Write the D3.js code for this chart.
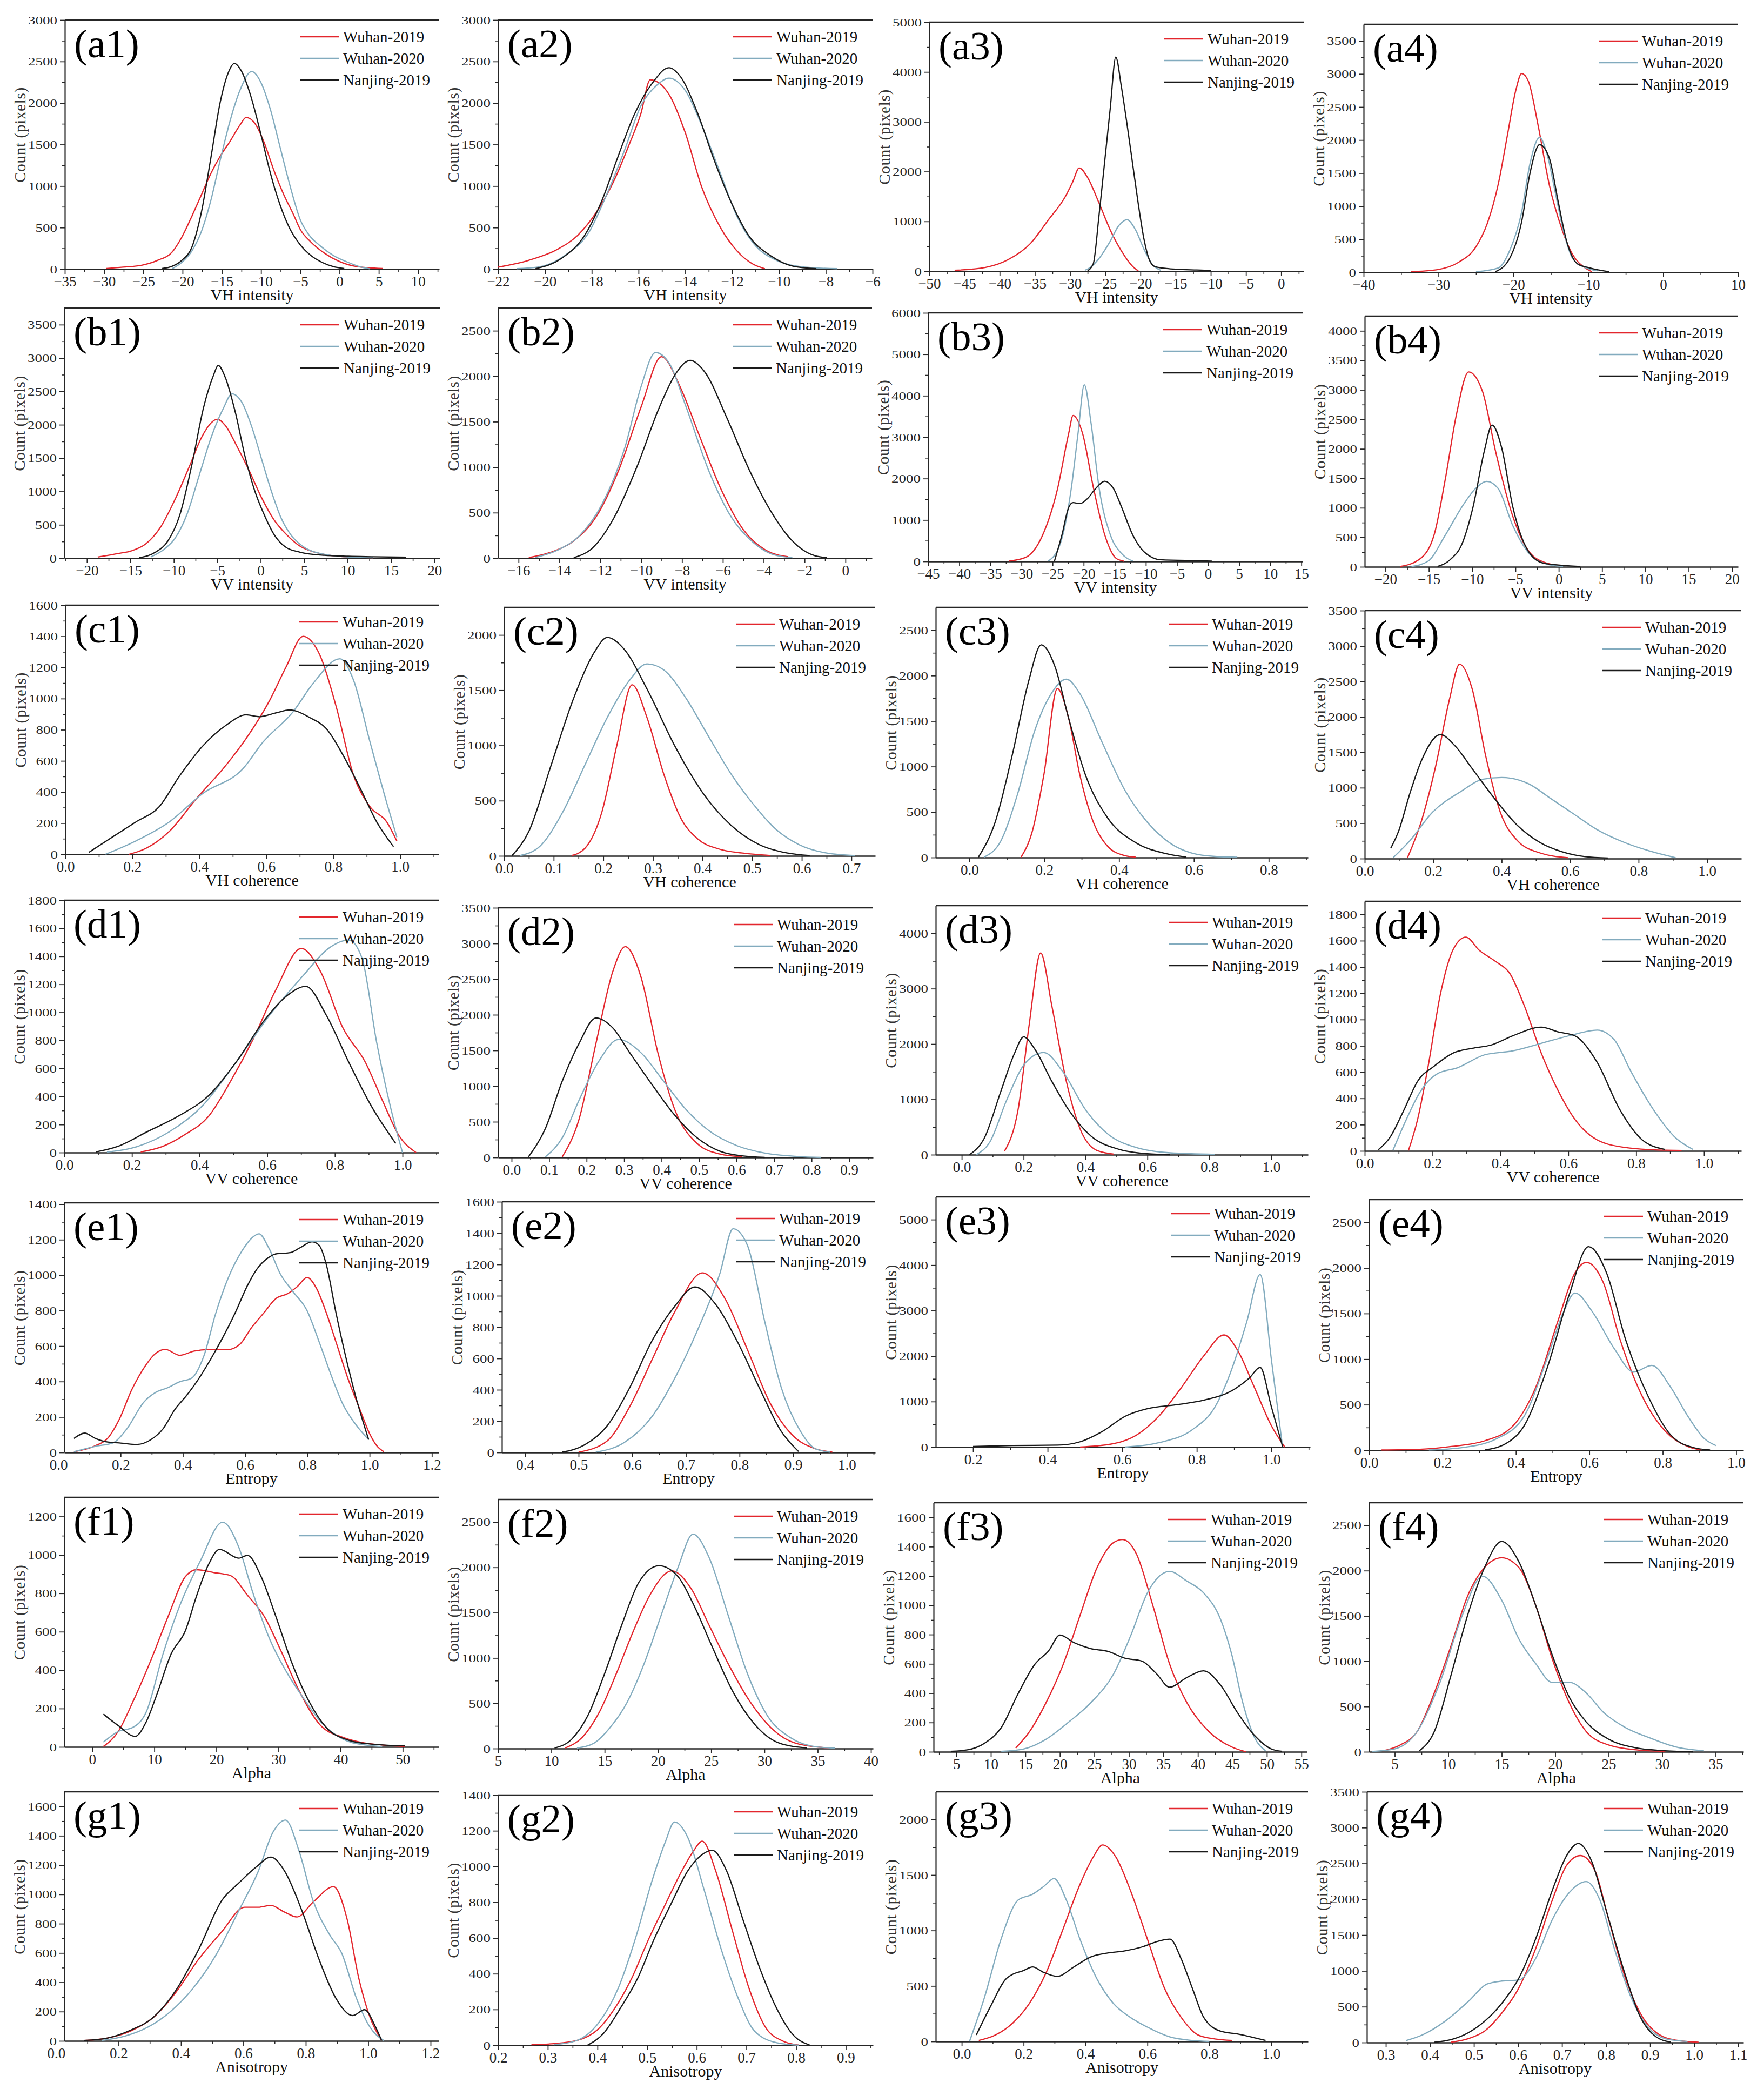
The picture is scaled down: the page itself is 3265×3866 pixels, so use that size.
<!DOCTYPE html>
<html><head><meta charset="utf-8">
<script src="https://cdn.jsdelivr.net/npm/d3@7/dist/d3.min.js"></script>
<style>body{margin:0;background:#fff}svg{display:block}</style>
</head><body><svg id="chart" width="3265" height="3866"></svg>
<script>
// ---------------- DATA ----------------
const seriesNames = ["Wuhan-2019", "Wuhan-2020", "Nanjing-2019"];
const rowTitles = ["VH intensity", "VV intensity", "VH coherence", "VV coherence", "Entropy", "Alpha", "Anisotropy"];
const yTitle = "Count (pixels)";

// (a) VH intensity
const a1_xr = [-35, 12.7], a1_ym = 3000;
const a1_xt = [-35, -30, -25, -20, -15, -10, -5, 0, 5, 10];
const a1_yt = [0, 500, 1000, 1500, 2000, 2500, 3000];
const a1_w19 = [[-29.7,7],[-27.6,23],[-25.2,47],[-23.2,105],[-21.3,209],[-20.1,384],[-18.8,640],[-17.6,895],[-16.4,1151],[-15.2,1360],[-13.9,1547],[-12.7,1733],[-11.9,1826],[-10.8,1756],[-9.6,1523],[-8.4,1198],[-7.1,895],[-5.9,663],[-5,477],[-3.7,330],[-1.9,190],[-0.1,95],[2.1,32],[5.5,7]];
const a1_w20 = [[-21.3,7],[-20.1,81],[-18.8,221],[-17.6,453],[-16.4,826],[-15.2,1314],[-13.9,1802],[-12.7,2151],[-11.2,2379],[-10,2244],[-8.8,1919],[-7.6,1477],[-6.4,1035],[-5,593],[-3.8,400],[-2.6,290],[-0.8,165],[1,85],[2.8,23],[3.9,2]];
const a1_nj = [[-22.6,7],[-21.3,35],[-20.1,105],[-18.8,267],[-17.6,686],[-16.4,1337],[-15.2,2012],[-14.2,2360],[-13.4,2477],[-12.5,2384],[-11.3,2081],[-10,1616],[-8.8,1151],[-7.6,779],[-6.4,500],[-5,291],[-3.6,160],[-2.2,80],[-0.8,30],[0.6,7]];

const a2_xr = [-22, -6], a2_ym = 3000;
const a2_xt = [-22, -20, -18, -16, -14, -12, -10, -8, -6];
const a2_yt = [0, 500, 1000, 1500, 2000, 2500, 3000];
const a2_w19 = [[-22,23],[-20.7,105],[-19.5,233],[-18.6,407],[-17.8,686],[-17.1,1035],[-16.4,1500],[-15.9,1872],[-15.5,2280],[-14.7,2105],[-14,1640],[-13.3,988],[-12.5,500],[-11.8,221],[-11.1,58],[-10.6,5]];
const a2_w20 = [[-21.2,5],[-20.3,23],[-19.1,174],[-18.1,453],[-17.4,872],[-16.6,1430],[-15.9,1965],[-15.2,2220],[-14.7,2300],[-14,2150],[-13.3,1733],[-12.5,1150],[-11.8,640],[-11.1,314],[-10.1,105],[-8.9,23],[-7.5,5]];
const a2_nj = [[-20.4,5],[-19.3,128],[-18.3,407],[-17.6,802],[-16.9,1337],[-16.2,1849],[-15.4,2244],[-14.7,2425],[-14.2,2314],[-13.5,1895],[-12.8,1337],[-12,779],[-11.3,407],[-10.3,151],[-9.4,35],[-8.4,5]];

const a3_xr = [-50, 3.2], a3_ym = 5000;
const a3_xt = [-50, -45, -40, -35, -30, -25, -20, -15, -10, -5, 0];
const a3_yt = [0, 1000, 2000, 3000, 4000, 5000];
const a3_w19 = [[-46.4,19],[-42,78],[-38.8,233],[-35.6,562],[-33.1,1027],[-30.7,1492],[-29.6,1800],[-28.7,2074],[-27.5,1880],[-25.9,1376],[-24.3,833],[-22.7,407],[-21.1,97],[-20.3,8]];
const a3_w20 = [[-27.9,19],[-27.3,60],[-25.9,252],[-24.3,600],[-23.1,911],[-21.9,1035],[-20.7,833],[-19.5,446],[-18.3,136],[-17.1,19]];
const a3_nj = [[-27.5,10],[-26.7,150],[-25.9,1093],[-25.1,2170],[-24.3,3250],[-23.5,4300],[-22.7,3700],[-21.9,2950],[-21.1,2150],[-20.3,1350],[-19.5,650],[-18.7,220],[-17.9,90],[-16.3,55],[-14.7,39],[-12,25],[-10,15]];

const a4_xr = [-40, 10], a4_ym = 3750;
const a4_xt = [-40, -30, -20, -10, 0, 10];
const a4_yt = [0, 500, 1000, 1500, 2000, 2500, 3000, 3500];
const a4_w19 = [[-33.7,9],[-30.3,38],[-27.3,154],[-25,387],[-23.5,736],[-22,1347],[-20.8,2075],[-19.7,2744],[-18.9,3006],[-18,2889],[-16.7,2220],[-15.2,1318],[-13.6,678],[-12.1,271],[-10.6,81],[-9.5,9]];
const a4_w20 = [[-25,9],[-22,67],[-20.5,329],[-18.9,911],[-17.8,1638],[-16.5,2040],[-15.5,1783],[-14.4,1202],[-13.3,620],[-12.1,212],[-10.6,81],[-8.7,23]];
const a4_nj = [[-22.4,9],[-20.5,212],[-18.9,765],[-17.8,1493],[-16.5,1930],[-15.2,1725],[-14,1056],[-12.9,474],[-11.4,125],[-9.8,67],[-7.2,9]];

// (b) VV intensity
const b1_xr = [-22.6, 20.6], b1_ym = 3750;
const b1_xt = [-20, -15, -10, -5, 0, 5, 10, 15, 20];
const b1_yt = [0, 500, 1000, 1500, 2000, 2500, 3000, 3500];
const b1_w19 = [[-18.75,18],[-16.3,72],[-14.9,109],[-13.2,217],[-11.5,471],[-9.9,870],[-8.2,1377],[-6.8,1812],[-5.7,2029],[-5,2083],[-4.1,1993],[-2.7,1667],[-1.3,1304],[0.1,906],[1.5,580],[2.9,362],[4.5,181],[6.2,91],[7.9,43],[10.1,18],[12.9,7]];
const b1_w20 = [[-12.65,18],[-11,145],[-9.9,290],[-8.5,652],[-7.1,1232],[-5.7,1812],[-4.3,2246],[-3.3,2464],[-2.1,2319],[-1,1956],[0.1,1485],[1.2,1014],[2.3,616],[3.4,362],[4.8,181],[6.8,72],[10.1,18],[12.9,7]];
const b1_nj = [[-14,7],[-12.1,91],[-10.7,254],[-9.3,652],[-7.9,1413],[-6.6,2246],[-5.4,2753],[-4.9,2891],[-4.1,2717],[-2.9,2174],[-1.8,1522],[-0.7,1014],[0.4,652],[1.5,362],[2.9,163],[4.5,91],[7.3,43],[10.1,29],[12.9,22],[16.7,14]];

const b2_xr = [-17, 1.3], b2_ym = 2750;
const b2_xt = [-16, -14, -12, -10, -8, -6, -4, -2, 0];
const b2_yt = [0, 500, 1000, 1500, 2000, 2500];
const b2_w19 = [[-15.5,6],[-14.4,67],[-13.3,190],[-12.2,456],[-11.1,967],[-10,1663],[-9,2215],[-8.1,1888],[-7.2,1376],[-6.1,763],[-5,313],[-3.9,88],[-2.8,16]];
const b2_w20 = [[-15.2,6],[-14.1,88],[-13,251],[-11.9,599],[-10.8,1213],[-10,1888],[-9.3,2260],[-8.6,2133],[-7.8,1663],[-6.7,967],[-5.6,456],[-4.5,170],[-3.5,37],[-2.6,6]];
const b2_nj = [[-13.3,6],[-12.4,108],[-11.3,456],[-10.2,1008],[-9.1,1663],[-8.3,2031],[-7.6,2174],[-6.9,2051],[-5.8,1540],[-4.7,967],[-3.6,497],[-2.6,190],[-1.5,27],[-0.9,6]];

const b3_xr = [-45, 15.2], b3_ym = 6000;
const b3_xt = [-45, -40, -35, -30, -25, -20, -15, -10, -5, 0, 5, 10, 15];
const b3_yt = [0, 1000, 2000, 3000, 4000, 5000, 6000];
const b3_w19 = [[-32,9],[-29.3,99],[-26.6,636],[-24.2,1755],[-22.4,3099],[-21.7,3524],[-20.2,3099],[-18.4,1755],[-16.6,636],[-14.8,76],[-13.5,5]];
const b3_w20 = [[-25.7,9],[-23.8,412],[-22,1755],[-20.9,3099],[-19.9,4263],[-18.8,3323],[-17.5,1755],[-15.7,636],[-13.9,188],[-12.1,9]];
const b3_nj = [[-24.7,9],[-23.5,636],[-22.4,1308],[-21.7,1420],[-20.6,1397],[-19.3,1531],[-18.1,1755],[-16.6,1935],[-15.2,1755],[-13.9,1308],[-12.1,636],[-10.3,233],[-7.6,40],[-2.1,18],[0.6,9]];

const b4_xr = [-22.4, 20.7], b4_ym = 4250;
const b4_xt = [-20, -15, -10, -5, 0, 5, 10, 15, 20];
const b4_yt = [0, 500, 1000, 1500, 2000, 2500, 3000, 3500, 4000];
const b4_w19 = [[-18.3,6],[-16.1,126],[-14.4,537],[-13.1,1486],[-11.8,2593],[-10.4,3304],[-8.8,2972],[-7.3,1960],[-5.3,854],[-3.4,253],[-1.4,63],[0.5,16]];
const b4_w20 = [[-17,6],[-15.1,95],[-13.1,537],[-11.2,1012],[-9.6,1328],[-8.3,1448],[-7,1328],[-5.3,696],[-3.4,221],[-1.4,47],[0.5,6]];
const b4_nj = [[-14,6],[-12.5,126],[-11.2,379],[-9.9,1012],[-8.6,1960],[-7.7,2403],[-6.6,2023],[-5.3,1012],[-3.6,285],[-1.8,63],[0.5,25],[2.5,6]];

// (c) VH coherence
const c1_xr = [0, 1.115], c1_ym = 1600;
const c1_xt = [0, 0.2, 0.4, 0.6, 0.8, 1.0];
const c1_yt = [0, 200, 400, 600, 800, 1000, 1200, 1400, 1600];
const c1_w19 = [[0.19,0],[0.24,37],[0.31,146],[0.39,354],[0.48,573],[0.54,744],[0.61,988],[0.66,1207],[0.71,1400],[0.76,1280],[0.81,939],[0.86,512],[0.91,305],[0.96,207],[0.99,85]];
const c1_w20 = [[0.12,0],[0.21,85],[0.31,207],[0.41,390],[0.53,549],[0.59,720],[0.68,915],[0.74,1098],[0.82,1256],[0.86,1122],[0.91,720],[0.96,329],[0.99,110]];
const c1_nj = [[0.07,12],[0.14,110],[0.21,207],[0.28,305],[0.34,500],[0.41,695],[0.48,829],[0.54,896],[0.58,884],[0.63,909],[0.67,927],[0.73,878],[0.78,805],[0.83,634],[0.88,427],[0.93,207],[0.98,49]];

const c2_xr = [0, 0.748], c2_ym = 2250;
const c2_xt = [0, 0.1, 0.2, 0.3, 0.4, 0.5, 0.6, 0.7];
const c2_yt = [0, 500, 1000, 1500, 2000];
const c2_w19 = [[0.136,3],[0.163,69],[0.197,395],[0.227,996],[0.258,1549],[0.288,1253],[0.322,738],[0.356,343],[0.39,155],[0.435,60],[0.48,26],[0.537,3]];
const c2_w20 = [[0.032,3],[0.072,86],[0.118,395],[0.163,824],[0.208,1253],[0.254,1597],[0.288,1738],[0.322,1683],[0.367,1425],[0.412,1082],[0.458,738],[0.503,464],[0.548,240],[0.594,103],[0.65,26],[0.707,3]];
const c2_nj = [[0.016,3],[0.05,223],[0.095,824],[0.14,1425],[0.181,1837],[0.208,1978],[0.242,1871],[0.288,1511],[0.344,996],[0.401,567],[0.458,275],[0.514,103],[0.571,26],[0.616,3]];

const c3_xr = [-0.09, 0.905], c3_ym = 2750;
const c3_xt = [0, 0.2, 0.4, 0.6, 0.8];
const c3_yt = [0, 500, 1000, 1500, 2000, 2500];
const c3_w19 = [[0.138,4],[0.168,287],[0.199,910],[0.235,1856],[0.265,1534],[0.295,910],[0.331,391],[0.37,121],[0.415,21],[0.445,4]];
const c3_w20 = [[0.039,4],[0.084,183],[0.129,702],[0.174,1388],[0.219,1804],[0.259,1960],[0.295,1804],[0.355,1263],[0.415,744],[0.475,391],[0.535,162],[0.595,48],[0.656,12],[0.716,4]];
const c3_nj = [[0.024,4],[0.069,391],[0.114,1118],[0.159,1949],[0.192,2338],[0.229,2095],[0.265,1534],[0.31,910],[0.37,432],[0.445,162],[0.52,48],[0.58,4]];

const c4_xr = [0, 1.1], c4_ym = 3500;
const c4_xt = [0, 0.2, 0.4, 0.6, 0.8, 1.0];
const c4_yt = [0, 500, 1000, 1500, 2000, 2500, 3000, 3500];
const c4_w19 = [[0.125,13],[0.165,521],[0.208,1322],[0.248,2258],[0.277,2744],[0.314,2391],[0.353,1456],[0.396,655],[0.446,254],[0.512,80],[0.594,13]];
const c4_w20 = [[0.083,13],[0.132,254],[0.198,655],[0.281,948],[0.347,1122],[0.4,1145],[0.479,1055],[0.545,842],[0.611,628],[0.677,414],[0.759,227],[0.842,94],[0.908,13]];
const c4_nj = [[0.076,147],[0.099,388],[0.132,922],[0.165,1376],[0.221,1750],[0.264,1590],[0.314,1269],[0.38,842],[0.446,468],[0.512,227],[0.578,94],[0.644,27],[0.71,8]];

// (d) VV coherence
const d1_xr = [0, 1.107], d1_ym = 1800;
const d1_xt = [0, 0.2, 0.4, 0.6, 0.8, 1.0];
const d1_yt = [0, 200, 400, 600, 800, 1000, 1200, 1400, 1600, 1800];
const d1_w19 = [[0.226,4],[0.292,45],[0.359,132],[0.425,254],[0.492,510],[0.558,807],[0.625,1158],[0.701,1456],[0.757,1294],[0.824,888],[0.89,645],[0.94,375],[0.99,119],[1.04,0]];
const d1_w20 = [[0.126,3],[0.209,38],[0.309,146],[0.409,335],[0.508,645],[0.608,983],[0.708,1267],[0.781,1456],[0.841,1516],[0.88,1388],[0.924,780],[0.973,240],[1.0,0]];
const d1_nj = [[0.093,4],[0.159,45],[0.243,146],[0.342,267],[0.425,402],[0.508,645],[0.591,942],[0.658,1118],[0.714,1186],[0.774,983],[0.841,645],[0.907,335],[0.98,65]];

const d2_xr = [-0.036, 0.964], d2_ym = 3500;
const d2_xt = [0, 0.1, 0.2, 0.3, 0.4, 0.5, 0.6, 0.7, 0.8, 0.9];
const d2_yt = [0, 500, 1000, 1500, 2000, 2500, 3000, 3500];
const d2_w19 = [[0.135,8],[0.18,539],[0.225,1601],[0.27,2610],[0.303,2955],[0.345,2530],[0.39,1468],[0.435,672],[0.495,194],[0.555,48],[0.615,8]];
const d2_w20 = [[0.09,8],[0.135,274],[0.18,805],[0.231,1336],[0.285,1654],[0.345,1468],[0.405,1070],[0.465,672],[0.525,380],[0.6,167],[0.675,61],[0.765,13],[0.825,0]];
const d2_nj = [[0.045,8],[0.09,406],[0.135,1070],[0.18,1601],[0.225,1955],[0.27,1814],[0.315,1468],[0.375,1017],[0.435,592],[0.495,274],[0.555,88],[0.615,21],[0.675,0]];

const d3_xr = [-0.084, 1.119], d3_ym = 4500;
const d3_xt = [0, 0.2, 0.4, 0.6, 0.8, 1.0];
const d3_yt = [0, 1000, 2000, 3000, 4000];
const d3_w19 = [[0.138,62],[0.182,814],[0.218,2352],[0.255,3644],[0.291,2694],[0.338,1326],[0.382,472],[0.436,79],[0.491,10]];
const d3_w20 = [[0.047,0],[0.091,232],[0.145,985],[0.207,1668],[0.265,1846],[0.327,1497],[0.4,814],[0.473,369],[0.564,130],[0.673,34],[0.818,7]];
const d3_nj = [[0.025,0],[0.073,301],[0.127,1156],[0.171,1839],[0.2,2129],[0.236,1908],[0.291,1326],[0.345,814],[0.418,335],[0.509,96],[0.6,17],[0.673,0]];

const d4_xr = [0, 1.11], d4_ym = 1900;
const d4_xt = [0, 0.2, 0.4, 0.6, 0.8, 1.0];
const d4_yt = [0, 200, 400, 600, 800, 1000, 1200, 1400, 1600, 1800];
const d4_w19 = [[0.129,4],[0.156,242],[0.189,675],[0.222,1180],[0.262,1540],[0.298,1627],[0.338,1526],[0.387,1440],[0.427,1353],[0.47,1108],[0.52,747],[0.57,459],[0.619,242],[0.685,84],[0.768,26],[0.851,9],[0.934,4]];
const d4_w20 = [[0.083,4],[0.123,242],[0.162,444],[0.215,589],[0.272,632],[0.354,732],[0.437,762],[0.52,819],[0.603,877],[0.685,920],[0.735,848],[0.785,603],[0.851,314],[0.917,98],[0.967,12]];
const d4_nj = [[0.04,9],[0.073,98],[0.116,314],[0.156,531],[0.205,646],[0.262,747],[0.321,783],[0.371,805],[0.437,877],[0.52,942],[0.57,906],[0.619,877],[0.685,675],[0.752,314],[0.818,84],[0.884,12]];

// (e) Entropy
const e1_xr = [0.019, 1.222], e1_ym = 1408;
const e1_xt = [0, 0.2, 0.4, 0.6, 0.8, 1.0, 1.2];
const e1_yt = [0, 200, 400, 600, 800, 1000, 1200, 1400];
const e1_w19 = [[0.05,4],[0.119,38],[0.158,79],[0.196,188],[0.235,351],[0.274,474],[0.312,558],[0.343,582],[0.39,548],[0.436,572],[0.482,580],[0.544,580],[0.583,610],[0.621,705],[0.66,787],[0.699,868],[0.737,896],[0.768,936],[0.799,987],[0.83,923],[0.861,787],[0.892,623],[0.93,419],[0.969,242],[1.0,106],[1.023,38],[1.046,4]];
const e1_w20 = [[0.05,4],[0.119,35],[0.173,52],[0.22,133],[0.274,283],[0.312,338],[0.351,365],[0.39,399],[0.428,419],[0.467,542],[0.506,787],[0.544,977],[0.591,1140],[0.621,1209],[0.645,1233],[0.676,1154],[0.714,1004],[0.753,909],[0.799,800],[0.838,623],[0.877,433],[0.915,269],[0.954,161],[0.997,72]];
const e1_nj = [[0.05,79],[0.085,109],[0.119,79],[0.158,59],[0.196,54],[0.251,45],[0.297,72],[0.336,133],[0.374,242],[0.413,324],[0.452,419],[0.49,528],[0.529,651],[0.568,787],[0.606,936],[0.637,1032],[0.676,1100],[0.699,1120],[0.745,1127],[0.776,1154],[0.815,1188],[0.838,1168],[0.861,1059],[0.892,787],[0.923,542],[0.954,324],[0.997,72]];

const e2_xr = [0.357, 1.053], e2_ym = 1600;
const e2_xt = [0.4, 0.5, 0.6, 0.7, 0.8, 0.9, 1.0];
const e2_yt = [0, 200, 400, 600, 800, 1000, 1200, 1400, 1600];
const e2_w19 = [[0.5,2],[0.553,73],[0.595,291],[0.637,593],[0.679,896],[0.731,1146],[0.773,981],[0.815,654],[0.857,315],[0.899,109],[0.941,24],[0.973,2]];
const e2_w20 = [[0.532,2],[0.584,61],[0.637,230],[0.679,472],[0.721,775],[0.763,1138],[0.788,1428],[0.815,1320],[0.847,835],[0.878,412],[0.914,133],[0.941,24],[0.969,2]];
const e2_nj = [[0.469,2],[0.511,48],[0.553,169],[0.595,412],[0.637,714],[0.679,932],[0.717,1056],[0.753,956],[0.795,714],[0.837,412],[0.878,133],[0.91,6]];

const e3_xr = [0.1, 1.104], e3_ym = 5500;
const e3_xt = [0.2, 0.4, 0.6, 0.8, 1.0];
const e3_yt = [0, 1000, 2000, 3000, 4000, 5000];
const e3_w19 = [[0.487,0],[0.577,75],[0.638,262],[0.698,677],[0.758,1301],[0.819,2008],[0.873,2465],[0.909,2133],[0.955,1301],[1.0,470],[1.036,0]];
const e3_w20 = [[0.608,0],[0.698,96],[0.789,387],[0.849,885],[0.894,1717],[0.934,2756],[0.97,3795],[1.0,1924],[1.03,0]];
const e3_nj = [[0.2,12],[0.306,33],[0.426,42],[0.487,116],[0.547,345],[0.608,677],[0.668,844],[0.743,927],[0.819,1031],[0.894,1239],[0.94,1509],[0.97,1750],[1.0,885],[1.03,12]];

const e4_xr = [0, 1.02], e4_ym = 2750;
const e4_xt = [0, 0.2, 0.4, 0.6, 0.8, 1.0];
const e4_yt = [0, 500, 1000, 1500, 2000, 2500];
const e4_w19 = [[0.034,4],[0.132,10],[0.224,42],[0.316,105],[0.393,272],[0.454,690],[0.515,1423],[0.561,1946],[0.592,2061],[0.638,1841],[0.684,1213],[0.745,586],[0.807,209],[0.868,42],[0.905,4]];
const e4_w20 = [[0.163,4],[0.255,31],[0.347,126],[0.423,377],[0.485,1004],[0.531,1527],[0.561,1726],[0.607,1527],[0.669,1109],[0.721,858],[0.77,931],[0.822,690],[0.868,377],[0.914,126],[0.945,52]];
const e4_nj = [[0.316,4],[0.377,84],[0.423,272],[0.485,900],[0.546,1715],[0.598,2234],[0.647,1946],[0.699,1213],[0.761,586],[0.822,167],[0.883,31],[0.929,4]];

// (f) Alpha
const f1_xr = [-4.5, 55.8], f1_ym = 1300;
const f1_xt = [0, 10, 20, 30, 40, 50];
const f1_yt = [0, 200, 400, 600, 800, 1000, 1200];
const f1_w19 = [[1.8,2],[4.2,81],[6.5,232],[9.6,464],[12.3,686],[15,887],[16.8,923],[19.6,908],[22.3,892],[25,790],[27.7,680],[30.4,500],[33.2,300],[36.8,111],[40.4,50],[44,20],[46.7,10],[50.4,2]];
const f1_w20 = [[1.8,25],[4.2,81],[6.5,101],[8.7,182],[11.4,484],[14.1,736],[17.4,968],[21,1170],[23.6,1040],[25.9,800],[28.6,560],[31.3,390],[34.1,250],[36.8,131],[40.4,40],[44,10],[46.7,2]];
const f1_nj = [[1.8,171],[4.2,111],[6.9,55],[8.7,131],[10.5,282],[12.7,484],[15,605],[16.8,786],[18.7,948],[20.5,1029],[23.6,983],[25,998],[27.2,887],[29.5,686],[32.2,434],[35,232],[37.7,101],[41.3,35],[44.9,15],[50.4,5]];

const f2_xr = [5, 40.2], f2_ym = 2750;
const f2_xt = [5, 10, 15, 20, 25, 30, 35, 40];
const f2_yt = [0, 500, 1000, 1500, 2000, 2500];
const f2_w19 = [[11.3,6],[12.9,124],[14.5,402],[16.1,829],[17.7,1299],[19.2,1684],[21.3,1962],[23.1,1769],[24.8,1363],[26.6,936],[28.7,509],[30.8,209],[32.9,60],[36.1,6]];
const f2_w20 = [[12.4,6],[14,60],[15.5,231],[17.1,509],[18.7,936],[20.3,1470],[21.9,2004],[23.3,2368],[24.8,2111],[26.6,1470],[28.4,829],[30.3,359],[32.4,124],[35,17],[36.6,6]];
const f2_nj = [[10.3,6],[11.9,103],[13.4,359],[15,829],[16.6,1363],[18.2,1833],[20.1,2019],[21.9,1897],[23.4,1577],[25,1150],[27.1,615],[29.2,252],[31.4,60],[34,6]];

const f3_xr = [1.7, 55.8], f3_ym = 1700;
const f3_xt = [5, 10, 15, 20, 25, 30, 35, 40, 45, 50, 55];
const f3_yt = [0, 200, 400, 600, 800, 1000, 1200, 1400, 1600];
const f3_w19 = [[13.6,26],[15.6,138],[18,336],[20.5,599],[22.9,928],[25.4,1258],[27.8,1429],[29.1,1449],[31.1,1350],[33.5,994],[35.9,599],[38.4,336],[41.6,138],[44.9,33],[47,0]];
const f3_w20 = [[11.5,3],[14.8,20],[18,86],[21.3,204],[24.5,336],[27.8,533],[30.3,797],[32.7,1086],[35.9,1231],[38.4,1165],[40.8,1086],[43.3,902],[44.9,665],[46.5,336],[48.2,99],[49.8,7]];
const f3_nj = [[4.2,3],[6.6,13],[9.1,59],[11.5,165],[14,402],[16.4,599],[18.4,691],[20,797],[22.1,744],[24.5,704],[27,685],[29.4,639],[31.9,619],[34,533],[35.9,441],[38.4,507],[40.8,553],[43.3,454],[45.7,270],[48.2,112],[50.6,20],[52.2,3]];

const f4_xr = [2.6, 37.6], f4_ym = 2750;
const f4_xt = [5, 10, 15, 20, 25, 30, 35];
const f4_yt = [0, 500, 1000, 1500, 2000, 2500];
const f4_w19 = [[3.9,11],[5.5,75],[7.1,224],[8.7,650],[10.3,1183],[11.8,1716],[13.4,2035],[15,2142],[16.6,2035],[18.2,1609],[19.7,1034],[21.3,544],[22.9,224],[25,75],[27.6,21],[30.3,4]];
const f4_w20 = [[2.9,4],[5,32],[7.1,224],[9.2,757],[11.3,1503],[13.2,1940],[15,1673],[16.6,1247],[18.2,970],[19.7,767],[21.3,767],[22.9,650],[24.5,437],[26.6,266],[28.7,160],[31.3,53],[33.9,11]];
const f4_nj = [[7.3,11],[8.7,224],[10.3,863],[11.8,1503],[13.4,2035],[15,2323],[16.6,2099],[18.2,1609],[19.7,1076],[21.3,607],[22.9,330],[25,139],[27.6,43],[30.3,11],[32.9,0]];

// (g) Anisotropy
const g1_xr = [0.026, 1.226], g1_ym = 1700;
const g1_xt = [0, 0.2, 0.4, 0.6, 0.8, 1.0, 1.2];
const g1_yt = [0, 200, 400, 600, 800, 1000, 1200, 1400, 1600];
const g1_w19 = [[0.09,3],[0.165,20],[0.238,67],[0.311,160],[0.384,333],[0.457,559],[0.531,746],[0.604,912],[0.648,912],[0.688,925],[0.732,879],[0.772,846],[0.823,946],[0.889,1052],[0.933,826],[0.97,426],[1.006,160],[1.043,3]];
const g1_w20 = [[0.146,3],[0.22,33],[0.293,93],[0.366,200],[0.439,360],[0.512,586],[0.586,892],[0.648,1159],[0.695,1425],[0.735,1507],[0.779,1292],[0.823,959],[0.878,719],[0.915,599],[0.962,293],[1.006,93],[1.05,3]];
const g1_nj = [[0.09,3],[0.165,20],[0.238,73],[0.311,160],[0.384,346],[0.457,626],[0.531,959],[0.586,1079],[0.64,1185],[0.688,1254],[0.732,1159],[0.787,892],[0.842,559],[0.896,293],[0.951,173],[0.988,213],[1.024,93],[1.043,3]];

const g2_xr = [0.2, 0.955], g2_ym = 1400;
const g2_xt = [0.2, 0.3, 0.4, 0.5, 0.6, 0.7, 0.8, 0.9];
const g2_yt = [0, 200, 400, 600, 800, 1000, 1200, 1400];
const g2_w19 = [[0.267,3],[0.312,9],[0.357,25],[0.402,91],[0.436,211],[0.469,375],[0.503,593],[0.537,790],[0.57,976],[0.593,1085],[0.611,1142],[0.638,976],[0.671,648],[0.705,320],[0.738,102],[0.772,25],[0.806,0]];
const g2_w20 = [[0.312,3],[0.357,25],[0.402,124],[0.442,320],[0.476,593],[0.51,921],[0.537,1140],[0.555,1249],[0.582,1162],[0.615,867],[0.649,539],[0.683,266],[0.716,80],[0.761,14],[0.806,0]];
const g2_nj = [[0.38,0],[0.413,69],[0.447,211],[0.481,375],[0.514,593],[0.548,790],[0.582,976],[0.609,1063],[0.631,1091],[0.66,976],[0.693,703],[0.727,430],[0.76,211],[0.794,58],[0.828,0]];

const g3_xr = [-0.084, 1.119], g3_ym = 2250;
const g3_xt = [0, 0.2, 0.4, 0.6, 0.8, 1.0];
const g3_yt = [0, 500, 1000, 1500, 2000];
const g3_w19 = [[0.055,9],[0.109,58],[0.164,164],[0.218,340],[0.273,622],[0.327,1010],[0.382,1415],[0.425,1662],[0.455,1771],[0.498,1662],[0.545,1362],[0.6,922],[0.655,481],[0.709,217],[0.764,58],[0.818,23],[0.873,9]];
const g3_w20 = [[0.025,0],[0.073,393],[0.127,922],[0.182,1274],[0.229,1327],[0.265,1397],[0.298,1468],[0.338,1274],[0.382,922],[0.436,569],[0.491,340],[0.545,217],[0.6,129],[0.673,41],[0.745,9],[0.8,0]];
const g3_nj = [[0.047,58],[0.091,305],[0.145,569],[0.2,640],[0.229,671],[0.265,622],[0.309,587],[0.364,675],[0.418,763],[0.473,798],[0.527,816],[0.582,851],[0.636,904],[0.673,922],[0.709,745],[0.745,481],[0.782,217],[0.836,93],[0.891,67],[0.935,41],[0.982,9]];

const g4_xr = [0.257, 1.112], g4_ym = 3500;
const g4_xt = [0.3, 0.4, 0.5, 0.6, 0.7, 0.8, 0.9, 1.0, 1.1];
const g4_yt = [0, 500, 1000, 1500, 2000, 2500, 3000, 3500];
const g4_w19 = [[0.448,5],[0.487,54],[0.525,163],[0.563,409],[0.602,763],[0.64,1308],[0.678,1989],[0.711,2479],[0.742,2610],[0.775,2397],[0.806,1716],[0.844,899],[0.883,354],[0.921,109],[0.959,33],[1.01,5]];
const g4_w20 = [[0.346,27],[0.384,109],[0.435,300],[0.487,572],[0.53,817],[0.563,858],[0.602,872],[0.64,1171],[0.678,1716],[0.717,2097],[0.755,2247],[0.786,1989],[0.819,1308],[0.857,627],[0.895,218],[0.934,54],[0.985,14]];
const g4_nj = [[0.41,5],[0.448,41],[0.487,136],[0.525,300],[0.563,545],[0.602,899],[0.64,1444],[0.678,2125],[0.711,2615],[0.737,2779],[0.767,2534],[0.8,1852],[0.839,1035],[0.878,354],[0.913,82],[0.947,5]];

// ---------------- PANEL REGISTRY ----------------
const panels = [
  {id:"a1",row:0,xr:a1_xr,ym:a1_ym,xt:a1_xt,yt:a1_yt,s:[a1_w19,a1_w20,a1_nj]},
  {id:"a2",row:0,xr:a2_xr,ym:a2_ym,xt:a2_xt,yt:a2_yt,s:[a2_w19,a2_w20,a2_nj]},
  {id:"a3",row:0,xr:a3_xr,ym:a3_ym,xt:a3_xt,yt:a3_yt,s:[a3_w19,a3_w20,a3_nj]},
  {id:"a4",row:0,xr:a4_xr,ym:a4_ym,xt:a4_xt,yt:a4_yt,s:[a4_w19,a4_w20,a4_nj]},
  {id:"b1",row:1,xr:b1_xr,ym:b1_ym,xt:b1_xt,yt:b1_yt,s:[b1_w19,b1_w20,b1_nj]},
  {id:"b2",row:1,xr:b2_xr,ym:b2_ym,xt:b2_xt,yt:b2_yt,s:[b2_w19,b2_w20,b2_nj]},
  {id:"b3",row:1,xr:b3_xr,ym:b3_ym,xt:b3_xt,yt:b3_yt,s:[b3_w19,b3_w20,b3_nj]},
  {id:"b4",row:1,xr:b4_xr,ym:b4_ym,xt:b4_xt,yt:b4_yt,s:[b4_w19,b4_w20,b4_nj]},
  {id:"c1",row:2,xr:c1_xr,ym:c1_ym,xt:c1_xt,yt:c1_yt,s:[c1_w19,c1_w20,c1_nj]},
  {id:"c2",row:2,xr:c2_xr,ym:c2_ym,xt:c2_xt,yt:c2_yt,s:[c2_w19,c2_w20,c2_nj]},
  {id:"c3",row:2,xr:c3_xr,ym:c3_ym,xt:c3_xt,yt:c3_yt,s:[c3_w19,c3_w20,c3_nj]},
  {id:"c4",row:2,xr:c4_xr,ym:c4_ym,xt:c4_xt,yt:c4_yt,s:[c4_w19,c4_w20,c4_nj]},
  {id:"d1",row:3,xr:d1_xr,ym:d1_ym,xt:d1_xt,yt:d1_yt,s:[d1_w19,d1_w20,d1_nj]},
  {id:"d2",row:3,xr:d2_xr,ym:d2_ym,xt:d2_xt,yt:d2_yt,s:[d2_w19,d2_w20,d2_nj]},
  {id:"d3",row:3,xr:d3_xr,ym:d3_ym,xt:d3_xt,yt:d3_yt,s:[d3_w19,d3_w20,d3_nj]},
  {id:"d4",row:3,xr:d4_xr,ym:d4_ym,xt:d4_xt,yt:d4_yt,s:[d4_w19,d4_w20,d4_nj]},
  {id:"e1",row:4,xr:e1_xr,ym:e1_ym,xt:e1_xt,yt:e1_yt,s:[e1_w19,e1_w20,e1_nj]},
  {id:"e2",row:4,xr:e2_xr,ym:e2_ym,xt:e2_xt,yt:e2_yt,s:[e2_w19,e2_w20,e2_nj]},
  {id:"e3",row:4,xr:e3_xr,ym:e3_ym,xt:e3_xt,yt:e3_yt,s:[e3_w19,e3_w20,e3_nj]},
  {id:"e4",row:4,xr:e4_xr,ym:e4_ym,xt:e4_xt,yt:e4_yt,s:[e4_w19,e4_w20,e4_nj]},
  {id:"f1",row:5,xr:f1_xr,ym:f1_ym,xt:f1_xt,yt:f1_yt,s:[f1_w19,f1_w20,f1_nj]},
  {id:"f2",row:5,xr:f2_xr,ym:f2_ym,xt:f2_xt,yt:f2_yt,s:[f2_w19,f2_w20,f2_nj]},
  {id:"f3",row:5,xr:f3_xr,ym:f3_ym,xt:f3_xt,yt:f3_yt,s:[f3_w19,f3_w20,f3_nj]},
  {id:"f4",row:5,xr:f4_xr,ym:f4_ym,xt:f4_xt,yt:f4_yt,s:[f4_w19,f4_w20,f4_nj]},
  {id:"g1",row:6,xr:g1_xr,ym:g1_ym,xt:g1_xt,yt:g1_yt,s:[g1_w19,g1_w20,g1_nj]},
  {id:"g2",row:6,xr:g2_xr,ym:g2_ym,xt:g2_xt,yt:g2_yt,s:[g2_w19,g2_w20,g2_nj]},
  {id:"g3",row:6,xr:g3_xr,ym:g3_ym,xt:g3_xt,yt:g3_yt,s:[g3_w19,g3_w20,g3_nj]},
  {id:"g4",row:6,xr:g4_xr,ym:g4_ym,xt:g4_xt,yt:g4_yt,s:[g4_w19,g4_w20,g4_nj]}
];

// ---------------- LAYOUT & STYLE ----------------
const frames = {
  a1:[120,37,813,498], a2:[922,37,1615,498], a3:[1720,41,2413,502], a4:[2524,45,3217,504],
  b1:[119,570,814,1033], b2:[922,570,1614,1033], b3:[1718,579,2411,1039], b4:[2526,585,3217,1049],
  c1:[121,1120,812,1581], c2:[933,1124,1620,1584], c3:[1732,1124,2421,1587], c4:[2526,1130,3223,1589],
  d1:[119,1666,812,2133], d2:[922,1680,1616,2142], d3:[1732,1676,2421,2137], d4:[2526,1668,3223,2130],
  e1:[119,2226,812,2688], e2:[929,2224,1620,2688], e3:[1732,2215,2425,2678], e4:[2534,2220,3227,2684],
  f1:[119,2771,812,3233], f2:[922,2775,1616,3236], f3:[1728,2781,2419,3242], f4:[2534,2781,3227,3242],
  g1:[119,3316,812,3777], g2:[922,3322,1616,3785], g3:[1732,3316,2421,3778], g4:[2530,3316,3227,3780]
};
const colors = ["#e3262d", "#82abbe", "#1a1a1a"];
const FONT = "'Liberation Serif','Times New Roman',serif";
const INK = "#262626";

const svg = d3.select("#chart");
svg.append("rect").attr("width", 3265).attr("height", 3866).attr("fill", "#fff");

function minorTicks(ticks, lo, hi) {
  const st = ticks[1] - ticks[0];
  const out = [];
  for (let k = -3; k < ticks.length + 3; k++) {
    const v = +(ticks[0] + (k + 0.5) * st).toFixed(6);
    if (v > lo + 1e-9 && v < hi - 1e-9) out.push(v);
  }
  return out;
}
function fmtX(ticks) {
  const st = Math.abs(ticks[1] - ticks[0]);
  return v => (st < 1 ? d3.format(".1f")(v) : String(v)).replace("-", "\u2212");
}

panels.forEach(p => {
  const [L, T, R, B] = frames[p.id];
  const x = d3.scaleLinear().domain(p.xr).range([L, R]);
  const y = d3.scaleLinear().domain([0, p.ym]).range([B, T]);
  const g = svg.append("g");

  // minor ticks
  g.append("g").attr("transform", `translate(0,${B})`)
    .call(d3.axisBottom(x).tickValues(minorTicks(p.xt, p.xr[0], p.xr[1])).tickSize(5).tickSizeOuter(0).tickFormat(""))
    .call(s => s.select(".domain").remove())
    .selectAll("line").attr("stroke", INK).attr("stroke-width", 1.6);
  g.append("g").attr("transform", `translate(${L},0)`)
    .call(d3.axisLeft(y).tickValues(minorTicks(p.yt, 0, p.ym)).tickSize(5).tickSizeOuter(0).tickFormat(""))
    .call(s => s.select(".domain").remove())
    .selectAll("line").attr("stroke", INK).attr("stroke-width", 1.6);

  // major x axis (labels at every listed tick, even a hair outside the frame)
  const gx = g.append("g").attr("transform", `translate(0,${B})`)
    .call(d3.axisBottom(x).tickValues(p.xt).tickSize(9).tickSizeOuter(0).tickPadding(4).tickFormat(fmtX(p.xt)));
  gx.attr("font-family", FONT).attr("font-size", 27);
  gx.selectAll("line").attr("stroke", INK).attr("stroke-width", 1.8)
    .attr("opacity", d => (d >= p.xr[0] - 1e-9 && d <= p.xr[1] + 1e-9) ? 1 : 0);
  gx.select(".domain").attr("stroke", INK).attr("stroke-width", 2.4);
  gx.selectAll("text").attr("fill", INK);

  // major y axis
  const gy = g.append("g").attr("transform", `translate(${L},0)`)
    .call(d3.axisLeft(y).tickValues(p.yt).tickSize(9).tickSizeOuter(0).tickPadding(5).tickFormat(d3.format("d")));
  gy.attr("font-family", FONT).attr("font-size", 22);
  gy.selectAll("line").attr("stroke", INK).attr("stroke-width", 1.8);
  gy.select(".domain").attr("stroke", INK).attr("stroke-width", 2.2);
  gy.selectAll(".tick text").attr("fill", INK)
    .attr("textLength", function () { return this.textContent.length * 13.5; })
    .attr("lengthAdjust", "spacingAndGlyphs");

  // top border
  g.append("line").attr("x1", L).attr("x2", R).attr("y1", T).attr("y2", T)
    .attr("stroke", INK).attr("stroke-width", 2.4);

  // curves
  const line = d3.line().x(d => x(d[0])).y(d => y(d[1])).curve(d3.curveMonotoneX);
  p.s.forEach((ser, i) => {
    g.append("path").datum(ser).attr("d", line)
      .attr("fill", "none").attr("stroke", colors[i]).attr("stroke-width", 2.3)
      .attr("stroke-linejoin", "round");
  });

  // legend
  seriesNames.forEach((nm, i) => {
    const ly = T + 31 + 40 * i;
    g.append("line").attr("x1", R - 258).attr("x2", R - 186).attr("y1", ly).attr("y2", ly)
      .attr("stroke", colors[i]).attr("stroke-width", 2.4);
    g.append("text").attr("x", R - 178).attr("y", ly).attr("dominant-baseline", "central")
      .attr("font-family", FONT).attr("font-size", 29).attr("fill", "#111").text(nm);
  });

  // panel label
  g.append("text").attr("x", L + 17).attr("y", T + 69)
    .attr("font-family", FONT).attr("font-size", 75).attr("fill", "#000").text(`(${p.id})`);

  // axis titles
  g.append("text").attr("x", (L + R) / 2).attr("y", B + 58).attr("text-anchor", "middle")
    .attr("font-family", FONT).attr("font-size", 30).attr("fill", "#111").text(rowTitles[p.row]);
  g.append("text").attr("transform", `translate(${L - 83},${(T + B) / 2 - 18}) rotate(-90)`)
    .attr("text-anchor", "middle").attr("dominant-baseline", "central")
    .attr("font-family", FONT).attr("font-size", 29)
    .attr("letter-spacing", 0.7).attr("fill", "#333").text(yTitle);
});
</script></body></html>
